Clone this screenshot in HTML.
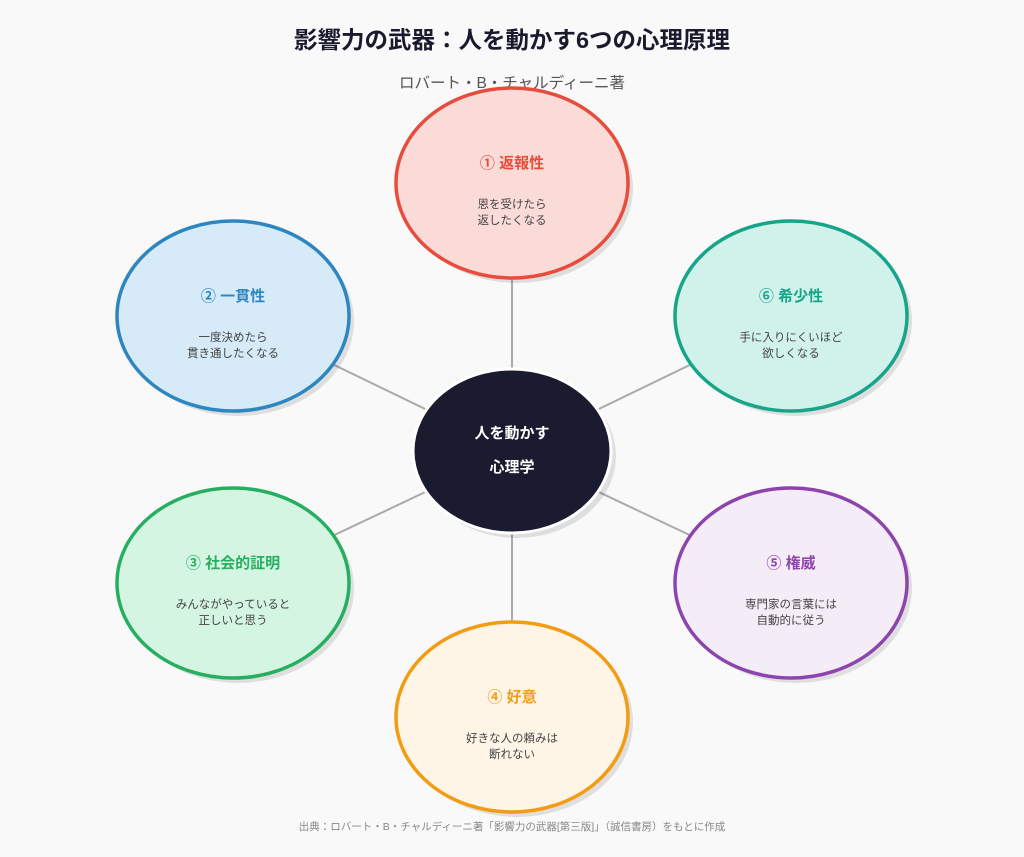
<!DOCTYPE html>
<html><head><meta charset="utf-8"><style>
html,body{margin:0;padding:0;background:#f9f9f9;}
svg text{font-family:"Liberation Sans","Noto Sans CJK JP",sans-serif;}
</style></head><body>
<svg width="1024" height="852" viewBox="0 0 1024 852" xmlns="http://www.w3.org/2000/svg">
<rect width="1024" height="852" fill="#f9f9f9"/>
<text x="512" y="48" text-anchor="middle" font-size="23.5" font-weight="bold" fill="#1a1a2e">影響力の武器：人を動かす6つの心理原理</text>
<text x="512" y="88" text-anchor="middle" font-size="15.5" fill="#555">ロバート・B・チャルディーニ著</text>
<g stroke="#aaa" stroke-width="2">
<line x1="512" y1="451" x2="512" y2="183"/>
<line x1="512" y1="451" x2="233" y2="316"/>
<line x1="512" y1="451" x2="791" y2="316"/>
<line x1="512" y1="451" x2="233" y2="583"/>
<line x1="512" y1="451" x2="791" y2="583"/>
<line x1="512" y1="451" x2="512" y2="717"/>
</g>
<g fill="#000" opacity="0.1">
<ellipse cx="517" cy="188" rx="116" ry="95"/>
<ellipse cx="238" cy="321" rx="116" ry="95"/>
<ellipse cx="796" cy="321" rx="116" ry="95"/>
<ellipse cx="238" cy="588" rx="116" ry="95"/>
<ellipse cx="796" cy="588" rx="116" ry="95"/>
<ellipse cx="517" cy="722" rx="116" ry="95"/>
<ellipse cx="517" cy="456" rx="99" ry="82"/>
</g>
<ellipse cx="512" cy="183" rx="116" ry="95" fill="#fadbd8" stroke="#e74c3c" stroke-width="3.5"/>
<ellipse cx="233" cy="316" rx="116" ry="95" fill="#d6eaf8" stroke="#2e86c1" stroke-width="3.5"/>
<ellipse cx="791" cy="316" rx="116" ry="95" fill="#d1f2eb" stroke="#17a589" stroke-width="3.5"/>
<ellipse cx="233" cy="583" rx="116" ry="95" fill="#d5f5e3" stroke="#27ae60" stroke-width="3.5"/>
<ellipse cx="791" cy="583" rx="116" ry="95" fill="#f4ecf7" stroke="#8e44ad" stroke-width="3.5"/>
<ellipse cx="512" cy="717" rx="116" ry="95" fill="#fef5e7" stroke="#f39c12" stroke-width="3.5"/>
<ellipse cx="512" cy="451" rx="99" ry="82" fill="#1b1b2f" stroke="#fff" stroke-width="3"/>
<g text-anchor="middle">
<text x="512" y="438" font-size="15" font-weight="bold" fill="#fff">人を動かす</text>
<text x="512" y="472" font-size="15" font-weight="bold" fill="#fff">心理学</text>
<g font-size="15" font-weight="bold">
<text x="512" y="168" fill="#e74c3c">① 返報性</text>
<text x="233" y="301" fill="#2e86c1">② 一貫性</text>
<text x="791" y="301" fill="#17a589">⑥ 希少性</text>
<text x="233" y="568" fill="#27ae60">③ 社会的証明</text>
<text x="791" y="568" fill="#8e44ad">⑤ 権威</text>
<text x="512" y="702" fill="#f39c12">④ 好意</text>
</g>
<g font-size="11.5" fill="#444">
<text x="512" y="208">恩を受けたら</text><text x="512" y="224">返したくなる</text>
<text x="233" y="341">一度決めたら</text><text x="233" y="357">貫き通したくなる</text>
<text x="791" y="341">手に入りにくいほど</text><text x="791" y="357">欲しくなる</text>
<text x="233" y="608">みんながやっていると</text><text x="233" y="624">正しいと思う</text>
<text x="791" y="608">専門家の言葉には</text><text x="791" y="624">自動的に従う</text>
<text x="512" y="742">好きな人の頼みは</text><text x="512" y="758">断れない</text>
</g>
<text x="512" y="830" font-size="10.5" fill="#888">出典：ロバート・B・チャルディーニ著「影響力の武器[第三版]」（誠信書房）をもとに作成</text>
</g>
</svg>
</body></html>
